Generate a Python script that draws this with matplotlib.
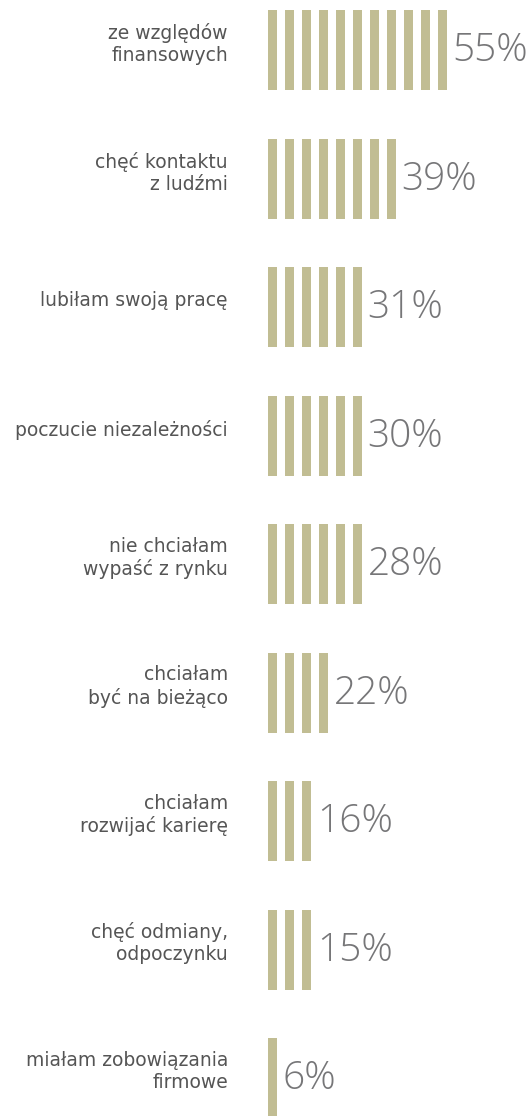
import numpy as np
import matplotlib.pyplot as plt

labels = ["ze względów\nfinansowych", "chęć kontaktu\nz ludźmi", "lubiłam swoją pracę",
          "poczucie niezależności", "nie chciałam\nwypaść z rynku", "chciałam\nbyć na bieżąco",
          "chciałam\nrozwijać karierę", "chęć odmiany,\nodpoczynku", "miałam zobowiązania\nfirmowe"]
values = [55, 39, 31, 30, 28, 22, 16, 15, 6]
per_stripe = 5

stripe_col = "#c1bd93"
pct_col = "#767678"
lab_col = "#555555"

fig = plt.figure(figsize=(5.32, 11.16), dpi=100)
ax = fig.add_axes([0, 0, 1, 1])
ax.set_xlim(0, 532)
ax.set_ylim(1116, 0)
ax.axis("off")

x0, pitch, w = 268, 17, 8.7
y0, row, h = 50, 128.5, 80

for i, (lab, v) in enumerate(zip(labels, values)):
    yc = y0 + i * row
    n = int(round(v / per_stripe))
    xs = x0 + pitch * np.arange(n)
    ax.bar(xs, h, width=w, bottom=yc - h / 2, align="edge", color=stripe_col, linewidth=0)
    ax.text(xs[-1] + w + 6, yc + 1, f"{v}%", fontsize=28, color=pct_col,
            family="Open Sans", fontweight="light", ha="left", va="center")
    ax.text(228, yc - 6, lab, fontsize=13.5, color=lab_col, family="DejaVu Sans",
            ha="right", va="center", linespacing=1.2)

fig.savefig("out.png", dpi=100)
